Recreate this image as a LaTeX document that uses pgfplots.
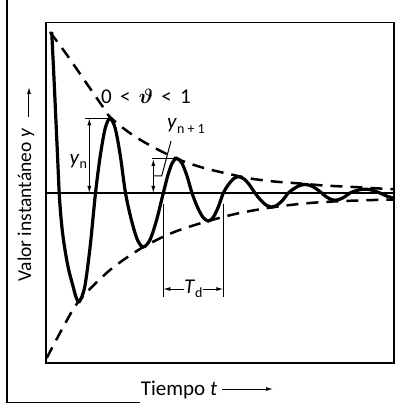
\documentclass[border=0pt]{standalone}
\usepackage{fontspec}
\setmainfont{Carlito}
\usepackage{pgfplots}
\pgfplotsset{compat=1.18}
\usetikzlibrary{arrows.meta}
\newcommand{\sub}[1]{\raisebox{-0.45ex}{\fontsize{14}{14}\selectfont #1}}
\begin{document}
\begin{tikzpicture}
\path[use as bounding box] (-46pt,-42pt) rectangle (352pt,363pt);
\begin{axis}[at={(0pt,0pt)}, anchor=south west,
  width=348pt, height=340.5pt, scale only axis,
  xmin=2, xmax=350, ymin=-170, ymax=170.5,
  xtick=\empty, ytick=\empty,
  axis line style={line width=1.5pt},
  clip=false]
% zero line
\addplot[black, line width=1.1pt] coordinates {(2,0) (350,0)};
% upper envelope
\addplot[black, line width=2.5pt, dash pattern=on 12pt off 8pt, smooth] coordinates {
(6,161) (23,138) (43,109) (59,86) (66,76) (83,62) (100,51) (131,35) (160,25) (194,17) (206,14.5) (230,11.5) (256,9.5) (280,7.5) (306,6.2) (330,4.8) (349,3.8)};
% lower envelope
\addplot[black, line width=2.5pt, dash pattern=on 12pt off 8pt, smooth] coordinates {
(2.7,-165) (18.7,-135) (35,-108) (66,-77) (99.3,-54) (131,-38.7) (164.3,-28) (194.3,-20.3) (227,-14.5) (260,-10.5) (289,-8.5) (320,-7.3) (349,-6.5)};
% damped oscillation
\addplot[black, line width=3.2pt, smooth, tension=0.5] coordinates {
(7.7,161) (9.5,125) (11.5,82) (13.5,38) (15.5,-5) (18,-35) (21,-57) (24.5,-76) (28.7,-92) (32,-104) (35.3,-108.7)
(40.7,-94) (46.1,-54) (51.5,0) (56.3,37.4) (61.2,64.7) (66,74.7)
(71.2,64.7) (76.3,37.4) (81.5,0) (87.4,-27) (93.4,-46.8) (99.3,-54)
(106,-46.8) (112.6,-27) (119.3,0) (123.8,17.4) (128.2,30) (132.7,34.7)
(137.8,30) (142.9,17.4) (148,0) (153.4,-14) (158.9,-24.2) (164.3,-28)
(169.3,-24.2) (174.3,-14) (179.3,0) (184.3,8.2) (189.3,14.1) (194.3,16.3)
(199.9,14.1) (205.4,8.2) (211,0) (216.6,-7) (222.1,-12.1) (227.7,-14)
(233.2,-12.1) (238.8,-7) (244.3,0) (249.9,4.3) (255.4,7.4) (261,8.5)
(266.6,7.4) (272.1,4.3) (277.7,0) (282.1,-3.6) (286.6,-6.2) (291,-7.2)
(296,-6.2) (301,-3.6) (306,0) (311,1.9) (316,3.3) (321,3.8)
(326,3.3) (331,1.9) (336,0) (342.5,-3) (349,-5)};
% y_n annotation
\draw[line width=1pt] (axis cs:41,74.7) -- (axis cs:66,74.7);
\draw[line width=1pt, {Latex[length=7pt,width=4pt]}-{Latex[length=7pt,width=4pt]}] (axis cs:45.3,74.7) -- (axis cs:45.3,0);
\node[font=\fontsize{21}{24}\selectfont, inner sep=0pt] at (axis cs:34.3,31.3) {\textit{y}\sub{n}};
% y_{n+1} annotation
\draw[line width=1pt] (axis cs:107.7,34) -- (axis cs:130,34);
\draw[line width=1pt, {Latex[length=7pt,width=4pt]}-{Latex[length=7pt,width=4pt]}] (axis cs:109.3,34) -- (axis cs:109.3,0);
\draw[line width=1pt] (axis cs:109.3,17) -- (axis cs:117.7,17) -- (axis cs:127,52);
\node[font=\fontsize{21}{24}\selectfont, inner sep=0pt] at (axis cs:142,67) {\textit{y}\sub{n + 1}};
% theta
\node[font=\fontsize{21}{24}\selectfont, inner sep=0pt] at (axis cs:102,97) {0 \,<\, {\boldmath$\vartheta$} \,<\, 1};
% T_d annotation
\draw[line width=1.1pt] (axis cs:119.3,-11) -- (axis cs:119.3,-104);
\draw[line width=1.1pt] (axis cs:179.3,-11) -- (axis cs:179.3,-104);
\node[font=\fontsize{21}{24}\selectfont, inner sep=1pt] at (axis cs:149.3,-96) {\textit{T}\sub{d}};
\draw[line width=1pt, -{Latex[length=7pt,width=4pt]}] (axis cs:140,-96) -- (axis cs:119.3,-96);
\draw[line width=1pt, -{Latex[length=7pt,width=4pt]}] (axis cs:159,-96) -- (axis cs:179.3,-96);
\end{axis}
% outer frame
\draw[line width=1.3pt] (-39pt,363pt) -- (-39pt,-39.7pt) -- (94pt,-39.7pt);
% axis labels
\node[rotate=90, font=\fontsize{19.5}{22}\selectfont, inner sep=0pt] at (-20pt,158pt) {Valor instantáneo \textit{y}};
\draw[line width=1pt, -{Latex[length=7pt,width=4pt]}] (-17pt,246pt) -- (-17pt,276pt);
\node[font=\fontsize{21}{24}\selectfont, inner sep=0pt, anchor=base] at (133pt,-32pt) {Tiempo \textit{t}};
\draw[line width=1pt, -{Latex[length=7pt,width=4pt]}] (176pt,-26pt) -- (227pt,-26pt);
\end{tikzpicture}
\end{document}
